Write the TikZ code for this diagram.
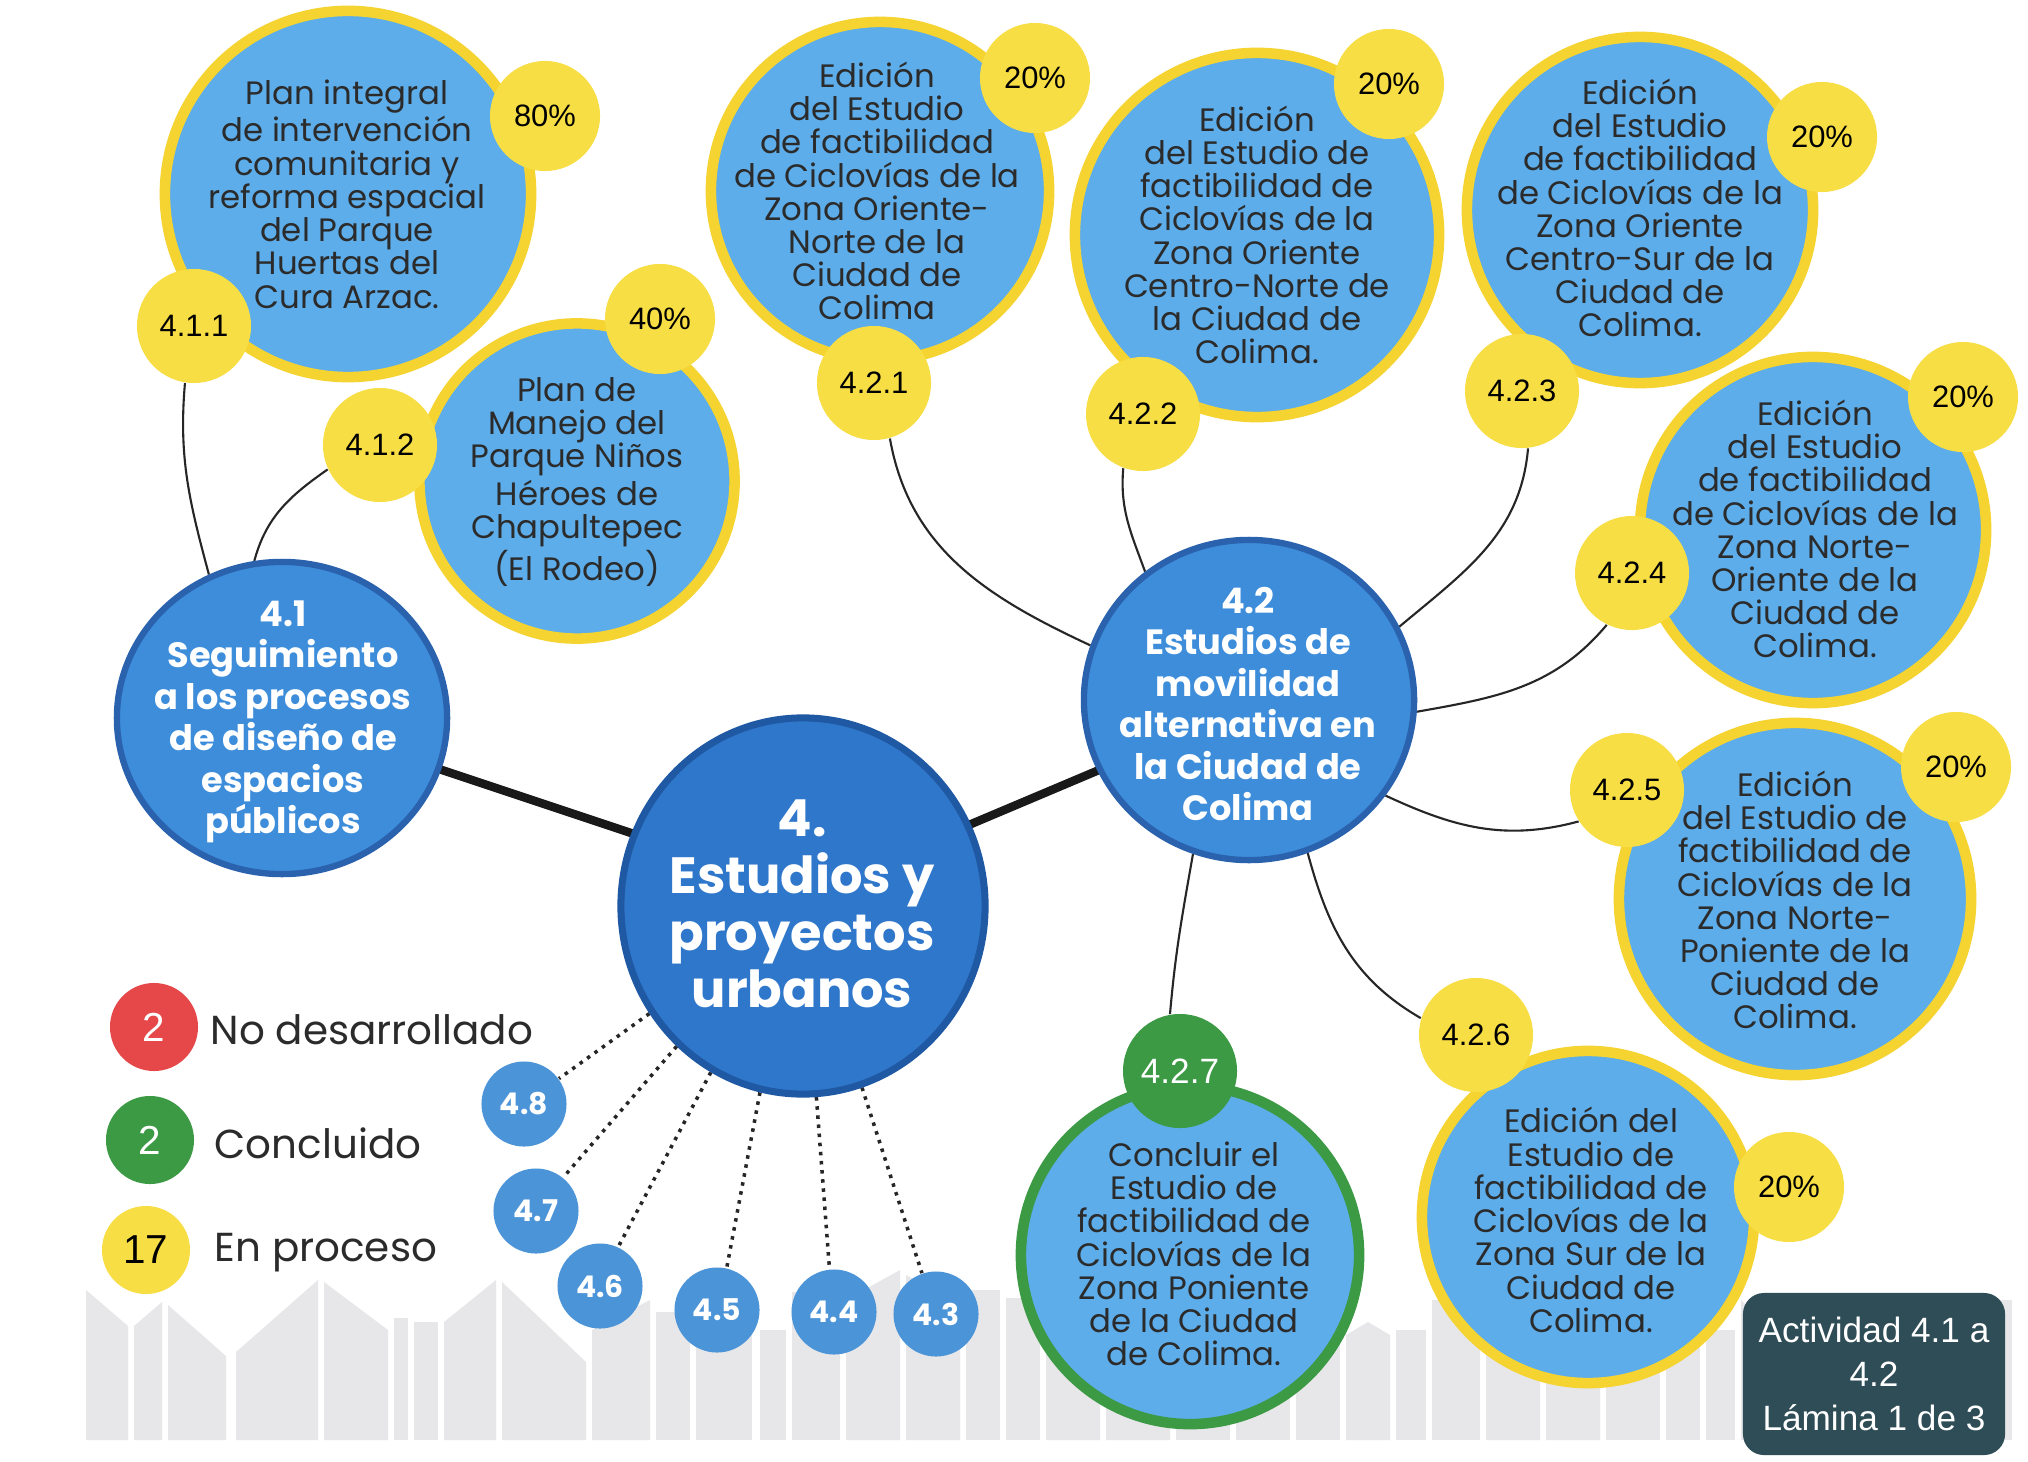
\documentclass[tikz,border=0pt]{standalone}
\usepackage{fontspec}
\setmainfont{Poppins}
\newfontfamily\arialf{Liberation Sans}
\usetikzlibrary{shapes.geometric}
\pgfdeclarelayer{sky}
\pgfdeclarelayer{links}
\pgfsetlayers{sky,links,main}
\definecolor{lblue}{HTML}{5DADEA}
\definecolor{ring}{HTML}{F5D330}
\definecolor{byel}{HTML}{F8DE45}
\definecolor{dblue}{HTML}{3D8DDA}
\definecolor{dbord}{HTML}{2A62AE}
\definecolor{cblue}{HTML}{2F77CA}
\definecolor{cbord}{HTML}{1F58A3}
\definecolor{sblue}{HTML}{4C94D8}
\definecolor{gring}{HTML}{3C9944}
\definecolor{txt}{HTML}{2B2B2B}
\definecolor{redc}{HTML}{E6484A}
\definecolor{boxc}{HTML}{2E4D57}
\definecolor{bldg}{HTML}{E7E7E9}
\begin{document}
\begin{tikzpicture}[x=0.01cm,y=-0.01cm,
  task/.style={circle, fill=lblue, draw=ring, line width=3pt, inner sep=0pt, minimum size=#1},
  gtask/.style={circle, fill=lblue, draw=gring, line width=3pt, inner sep=0pt, minimum size=#1},
  pct/.style={circle, fill=byel, inner sep=0pt, minimum size=1.1cm, text=black, font=\arialf\fontsize{8.8}{10}\selectfont},
  num/.style={circle, fill=byel, inner sep=0pt, minimum size=1.14cm, text=black, font=\arialf\fontsize{8.8}{10}\selectfont},
  ttext/.style={align=center, text=txt, inner sep=0pt, font=\fontsize{9.2}{9.45}\selectfont},
  ctext/.style={align=center, text=white, inner sep=0pt, font=\bfseries\fontsize{10}{11.8}\selectfont},
  subnode/.style={circle, fill=sblue, inner sep=0pt, minimum size=0.85cm, text=white, font=\bfseries\fontsize{8.5}{9}\selectfont},
  leg/.style={circle, inner sep=0pt, minimum size=0.88cm, font=\arialf\fontsize{11.5}{12}\selectfont},
  legtext/.style={anchor=west, inner sep=0pt, text=txt, font=\fontsize{11.5}{12}\selectfont},
  thinlink/.style={draw=black!85, line width=0.6pt},
  brush/.style={draw=black!90, line width=2.4pt, line cap=round},
  dotlink/.style={draw=black!85, line width=1pt, dash pattern=on 1pt off 1.6pt},
  bld/.style={fill=bldg}
]
\useasboundingbox (0,0) rectangle (2028,1461);

\begin{pgfonlayer}{sky}
\fill[white] (0,0) rectangle (2028,1461);
\fill[bld] (86,1440)--(86,1290)--(128,1326)--(128,1440)--cycle;
\fill[bld] (134,1440)--(134,1326)--(162,1302)--(162,1440)--cycle;
\fill[bld] (168,1440)--(168,1305)--(226,1356)--(226,1440)--cycle;
\fill[bld] (236,1440)--(236,1352)--(318,1280)--(318,1440)--cycle;
\fill[bld] (324,1440)--(324,1282)--(388,1330)--(388,1440)--cycle;
\fill[bld] (394,1440)--(394,1318)--(408,1318)--(408,1440)--cycle;
\fill[bld] (414,1440)--(414,1322)--(438,1322)--(438,1440)--cycle;
\fill[bld] (444,1440)--(444,1322)--(496,1280)--(496,1440)--cycle;
\fill[bld] (502,1440)--(502,1282)--(586,1362)--(586,1440)--cycle;
\fill[bld] (592,1440)--(592,1330)--(650,1300)--(650,1440)--cycle;
\fill[bld] (656,1440)--(656,1312)--(690,1312)--(690,1440)--cycle;
\fill[bld] (696,1440)--(696,1330)--(752,1330)--(752,1440)--cycle;
\fill[bld] (760,1440)--(760,1330)--(786,1330)--(786,1440)--cycle;
\fill[bld] (792,1440)--(792,1292)--(840,1292)--(840,1440)--cycle;
\fill[bld] (846,1440)--(846,1300)--(900,1270)--(900,1440)--cycle;
\fill[bld] (906,1440)--(906,1275)--(960,1305)--(960,1440)--cycle;
\fill[bld] (966,1440)--(966,1290)--(1000,1290)--(1000,1440)--cycle;
\fill[bld] (1006,1440)--(1006,1298)--(1040,1298)--(1040,1440)--cycle;
\fill[bld] (1046,1440)--(1046,1310)--(1100,1280)--(1100,1440)--cycle;
\fill[bld] (1106,1440)--(1106,1285)--(1170,1320)--(1170,1440)--cycle;
\fill[bld] (1176,1440)--(1176,1315)--(1230,1315)--(1230,1440)--cycle;
\fill[bld] (1236,1440)--(1236,1300)--(1290,1300)--(1290,1440)--cycle;
\fill[bld] (1296,1440)--(1296,1330)--(1340,1330)--(1340,1440)--cycle;
\fill[bld] (1346,1440)--(1346,1335)--(1368,1322)--(1390,1335)--(1390,1440)--cycle;
\fill[bld] (1396,1440)--(1396,1330)--(1426,1330)--(1426,1440)--cycle;
\fill[bld] (1432,1440)--(1432,1300)--(1480,1300)--(1480,1440)--cycle;
\fill[bld] (1486,1440)--(1486,1320)--(1540,1290)--(1540,1440)--cycle;
\fill[bld] (1546,1440)--(1546,1290)--(1600,1320)--(1600,1440)--cycle;
\fill[bld] (1606,1440)--(1606,1310)--(1660,1310)--(1660,1440)--cycle;
\fill[bld] (1666,1440)--(1666,1330)--(1700,1330)--(1700,1440)--cycle;
\fill[bld] (1706,1440)--(1706,1330)--(1735,1330)--(1735,1440)--cycle;
\fill[bld] (1741,1440)--(1741,1300)--(1764,1322)--(1790,1300)--(1790,1440)--cycle;
\fill[bld] (1796,1440)--(1796,1310)--(1850,1310)--(1850,1440)--cycle;
\fill[bld] (1856,1440)--(1856,1295)--(1910,1325)--(1910,1440)--cycle;
\fill[bld] (1916,1440)--(1916,1320)--(1960,1320)--(1960,1440)--cycle;
\fill[bld] (1966,1440)--(1966,1300)--(2012,1300)--(2012,1440)--cycle;
\end{pgfonlayer}

% central and branch nodes
\node[ellipse, fill=cblue, draw=cbord, line width=2pt, inner sep=0pt, minimum width=3.64cm, minimum height=3.76cm] (n4) at (803,906) {};
\node[ellipse, fill=dblue, draw=dbord, line width=1.8pt, inner sep=0pt, minimum width=3.3cm, minimum height=3.12cm] (n41) at (282,718) {};
\node[ellipse, fill=dblue, draw=dbord, line width=1.8pt, inner sep=0pt, minimum width=3.3cm, minimum height=3.2cm] (n42) at (1249,700) {};
\node[align=center, text=white, inner sep=0pt, font=\bfseries\fontsize{14.5}{16.2}\selectfont] (t4) at (802,904) {4.\\Estudios y\\proyectos\\urbanos};
\node[ctext] (t41) at (283,722) {4.1\\Seguimiento\\a los procesos\\de diseño de\\espacios\\públicos};
\node[ctext] (t42) at (1248,704) {4.2\\Estudios de\\movilidad\\alternativa en\\la Ciudad de\\Colima};

% task circles
\node[task=3.66cm] (c411) at (348,194) {};
\node[ttext] (t411) at (347,194) {Plan integral\\de intervención\\comunitaria y\\reforma espacial\\del Parque\\Huertas del\\Cura Arzac.};
\node[task=3.15cm] (c412) at (577,481) {};
\node[ttext] (t412) at (577,482) {Plan de\\Manejo del\\Parque Niños\\Héroes de\\Chapultepec\\(El Rodeo)};
\node[task=3.38cm] (c421) at (880,191) {};
\node[ttext] (t421) at (877,191) {Edición\\del Estudio\\de factibilidad\\de Ciclovías de la\\Zona Oriente-\\Norte de la\\Ciudad de\\Colima};
\node[task=3.64cm] (c422) at (1257,235) {};
\node[ttext] (t422) at (1257,235) {Edición\\del Estudio de\\factibilidad de\\Ciclovías de la\\Zona Oriente\\Centro-Norte de\\la Ciudad de\\Colima.};
\node[task=3.46cm] (c423) at (1640,210) {};
\node[ttext] (t423) at (1640,208) {Edición\\del Estudio\\de factibilidad\\de Ciclovías de la\\Zona Oriente\\Centro-Sur de la\\Ciudad de\\Colima.};
\node[task=3.46cm] (c424) at (1813,530) {};
\node[ttext] (t424) at (1815,529) {Edición\\del Estudio\\de factibilidad\\de Ciclovías de la\\Zona Norte-\\Oriente de la\\Ciudad de\\Colima.};
\node[task=3.52cm] (c425) at (1795,899) {};
\node[ttext] (t425) at (1795,900) {Edición\\del Estudio de\\factibilidad de\\Ciclovías de la\\Zona Norte-\\Poniente de la\\Ciudad de\\Colima.};
\node[task=3.32cm] (c426) at (1588,1217) {};
\node[ttext] (t426) at (1591,1220) {Edición del\\Estudio de\\factibilidad de\\Ciclovías de la\\Zona Sur de la\\Ciudad de\\Colima.};
\node[gtask=3.38cm] (c427) at (1190,1255) {};
\node[ttext] (t427) at (1194,1254) {Concluir el\\Estudio de\\factibilidad de\\Ciclovías de la\\Zona Poniente\\de la Ciudad\\de Colima.};

% percentage badges
\node[pct] (p411) at (545,116) {80\%};
\node[pct] (p412) at (660,319) {40\%};
\node[pct] (p421) at (1035,78) {20\%};
\node[pct] (p422) at (1389,84) {20\%};
\node[pct] (p423) at (1822,137) {20\%};
\node[pct] (p424) at (1963,397) {20\%};
\node[pct] (p425) at (1956,767) {20\%};
\node[pct] (p426) at (1789,1187) {20\%};

% number badges
\node[num] (b411) at (194,326) {4.1.1};
\node[num] (b412) at (380,445) {4.1.2};
\node[num] (b421) at (874,383) {4.2.1};
\node[num] (b422) at (1143,414) {4.2.2};
\node[num] (b423) at (1522,391) {4.2.3};
\node[num] (b424) at (1632,573) {4.2.4};
\node[num] (b425) at (1627,790) {4.2.5};
\node[num] (b426) at (1476,1035) {4.2.6};
\node[num, fill=gring, text=white, font=\arialf\fontsize{10}{11}\selectfont] (b427) at (1180,1071) {4.2.7};

% small activity nodes
\node[subnode] (s48) at (524,1104) {4.8};
\node[subnode] (s47) at (536,1211) {4.7};
\node[subnode] (s46) at (600,1286) {4.6};
\node[subnode] (s45) at (717,1310) {4.5};
\node[subnode] (s44) at (834,1312) {4.4};
\node[subnode] (s43) at (936,1314) {4.3};

% legend
\node[leg, fill=redc, text=white] (lg1) at (154,1027) {2};
\node[legtext] (lt1) at (210,1030) {No desarrollado};
\node[leg, fill=gring, text=white] (lg2) at (150,1140) {2};
\node[legtext] (lt2) at (214,1143) {Concluido};
\node[leg, fill=byel, text=black] (lg3) at (146,1250) {17};
\node[legtext] (lt3) at (214,1253) {En proceso};

% info box
\node[fill=boxc, rounded corners=6pt, minimum width=2.62cm, minimum height=1.62cm, align=center, text=white, inner sep=0pt, font=\arialf\fontsize{10}{12.6}\selectfont] (box) at (1874,1374) {Actividad 4.1 a\\4.2\\Lámina 1 de 3};

\begin{pgfonlayer}{links}
\draw[brush] (n41.-18) -- (n4.157);
\draw[brush] (n4.26) -- (n42.205);
\draw[thinlink] (b411.-99) to[out=-95, in=105] (n41.117);
\draw[thinlink] (b412.205) to[out=215, in=75] (n41.100);
\draw[thinlink] (b421.-74) to[out=-80, in=155] (n42.161);
\draw[thinlink] (b422.-110) to[out=-95, in=110] (n42.129);
\draw[thinlink] (b423.-84) to[out=-95, in=40] (n42.26);
\draw[thinlink] (b424.-116) to[out=-130, in=10] (n42.-4);
\draw[thinlink] (n42.-35) to[out=-25, in=195] (b425.-147);
\draw[thinlink] (n42.-69) to[out=-75, in=150] (b426.163);
\draw[thinlink] (n42.-110) to[out=-100, in=85] (b427.100);
\draw[dotlink] (n4.215) -- (s48.36);
\draw[dotlink] (n4.228) -- (s47.51);
\draw[dotlink] (n4.241) -- (s46.65);
\draw[dotlink] (n4.257) -- (s45.77);
\draw[dotlink] (n4.274) -- (s44.96);
\draw[dotlink] (n4.288) -- (s43.109);
\end{pgfonlayer}
\end{tikzpicture}
\end{document}
